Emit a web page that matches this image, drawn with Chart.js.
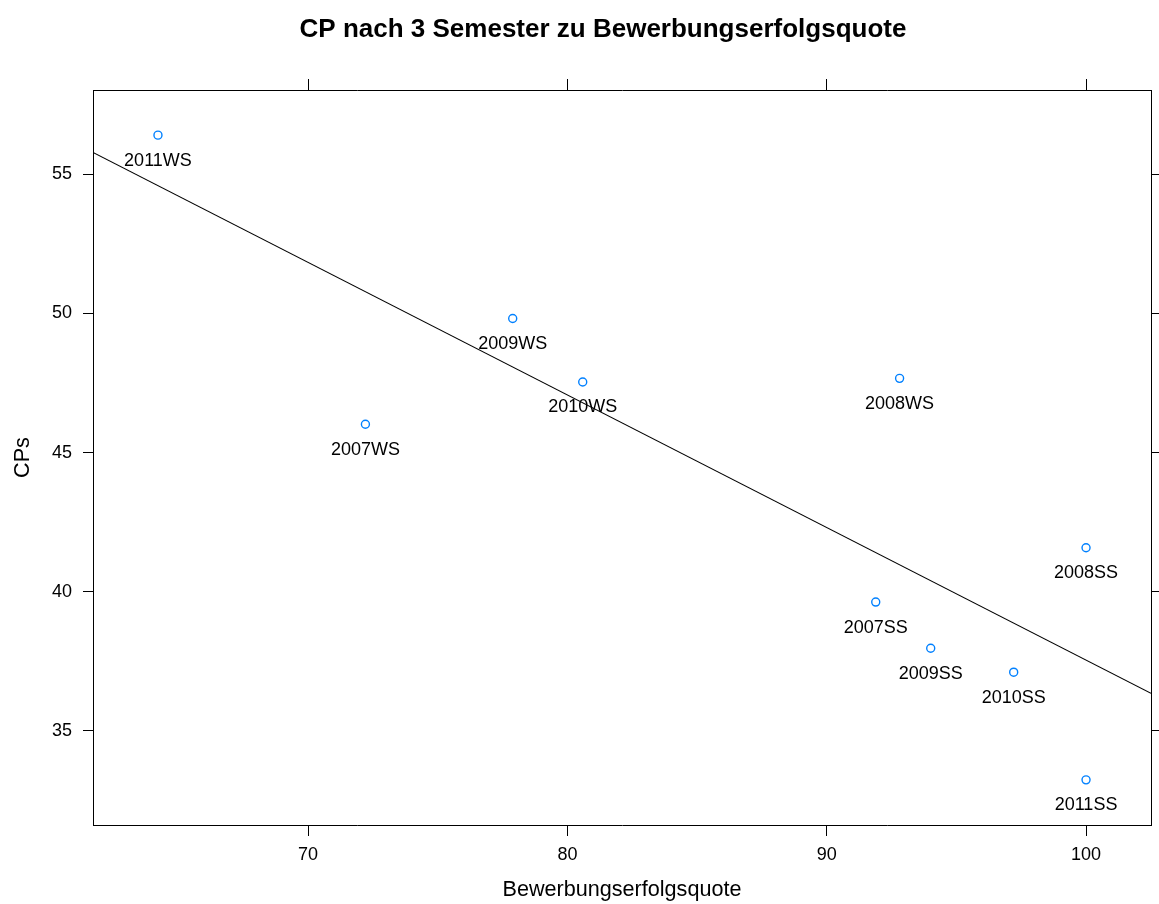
<!DOCTYPE html>
<html>
<head>
<meta charset="utf-8">
<title>CP nach 3 Semester zu Bewerbungserfolgsquote</title>
<script src="https://cdn.jsdelivr.net/npm/chart.js@4.4.1/dist/chart.umd.min.js"></script>
<style>
  html, body { margin: 0; padding: 0; background: #ffffff; }
  canvas { display: block; }
</style>
</head>
<body>
<canvas id="chart" width="1159" height="904"></canvas>
<script>
// Cohorts (semester of enrolment)
const cohorts = ['2011WS', '2009WS', '2010WS', '2007WS', '2008WS',
                 '2008SS', '2007SS', '2009SS', '2010SS', '2011SS'];
// Application success rate (%)
const erfolgsquote = [64.21, 77.89, 80.59, 72.21, 92.81,
                      100.0, 91.89, 94.01, 97.21, 100.0];
// Credit points after 3 semesters
const cps = [56.41, 49.82, 47.54, 46.02, 47.67,
             41.58, 39.63, 37.97, 37.11, 33.24];

const xTicks = [70, 80, 90, 100];
const yTicks = [35, 40, 45, 50, 55];

// Axis limits: data range extended by 7% on each side
function padRange(vals) {
  const lo = Math.min(...vals), hi = Math.max(...vals);
  const d = (hi - lo) * 0.07;
  return [lo - d, hi + d];
}
const [xMin, xMax] = padRange(erfolgsquote);
const [yMin, yMax] = padRange(cps);

// Least-squares fit of CPs on success rate
function linearFit(xs, ys) {
  const n = xs.length;
  const mx = xs.reduce((a, b) => a + b, 0) / n;
  const my = ys.reduce((a, b) => a + b, 0) / n;
  let sxy = 0, sxx = 0;
  for (let i = 0; i < n; i++) {
    sxy += (xs[i] - mx) * (ys[i] - my);
    sxx += (xs[i] - mx) * (xs[i] - mx);
  }
  const b = sxy / sxx;
  return { a: my - b * mx, b };
}
const fit = linearFit(erfolgsquote, cps);
const fitLine = [xMin, xMax].map(x => ({ x, y: fit.a + fit.b * x }));

const FONT = '"Liberation Sans", Arial, Helvetica, sans-serif';
const INK = '#000000';

const points = erfolgsquote.map((x, i) => ({ x, y: cps[i] }));

// Text labels underneath each point
const pointLabels = {
  id: 'pointLabels',
  afterDatasetsDraw(chart) {
    const meta = chart.getDatasetMeta(0);
    const ctx = chart.ctx;
    ctx.save();
    ctx.font = '18px ' + FONT;
    ctx.fillStyle = INK;
    ctx.textAlign = 'center';
    ctx.textBaseline = 'middle';
    meta.data.forEach((el, i) => {
      ctx.fillText(cohorts[i], el.x, el.y + 25.5);
    });
    ctx.restore();
  }
};

// Main heading
const plotTitle = {
  id: 'plotTitle',
  afterDraw(chart, args, opts) {
    const ctx = chart.ctx;
    ctx.save();
    ctx.font = 'bold 26px ' + FONT;
    ctx.fillStyle = INK;
    ctx.textAlign = 'center';
    ctx.textBaseline = 'alphabetic';
    ctx.fillText(opts.text, opts.x, opts.y);
    ctx.restore();
  }
};

const gridOpts = (len) => ({
  display: true,
  drawOnChartArea: false,
  drawTicks: true,
  tickLength: len,
  color: INK,
  lineWidth: 1
});
const borderOpts = { display: true, color: INK, width: 1 };
const fixedTicks = (vals) => (scale) => { scale.ticks = vals.map(v => ({ value: v })); };

new Chart(document.getElementById('chart'), {
  type: 'scatter',
  data: {
    datasets: [
      {
        label: 'CPs',
        data: points,
        pointStyle: 'circle',
        pointRadius: 4,
        pointHoverRadius: 4,
        pointBorderWidth: 1.4,
        borderColor: '#0080ff',
        backgroundColor: 'rgba(255,255,255,0)',
        showLine: false
      },
      {
        label: 'Regression',
        data: fitLine,
        showLine: true,
        borderColor: INK,
        borderWidth: 1.1,
        pointRadius: 0,
        pointHoverRadius: 0,
        fill: false
      }
    ]
  },
  options: {
    responsive: false,
    animation: false,
    devicePixelRatio: 1,
    layout: { padding: 0 },
    plugins: {
      legend: { display: false },
      tooltip: { enabled: false },
      title: { display: false },
      plotTitle: { text: 'CP nach 3 Semester zu Bewerbungserfolgsquote', x: 603, y: 37 }
    },
    scales: {
      x: {
        type: 'linear',
        position: 'bottom',
        min: xMin,
        max: xMax,
        afterBuildTicks: fixedTicks(xTicks),
        afterFit(s) { s.height = 79; },
        grid: gridOpts(11),
        border: borderOpts,
        ticks: {
          color: INK,
          font: { family: FONT, size: 18 },
          padding: 8,
          maxRotation: 0,
          autoSkip: false
        },
        title: {
          display: true,
          text: 'Bewerbungserfolgsquote',
          color: INK,
          font: { family: FONT, size: 21.6 },
          padding: { top: 0, bottom: 1 }
        }
      },
      y: {
        type: 'linear',
        position: 'left',
        min: yMin,
        max: yMax,
        afterBuildTicks: fixedTicks(yTicks),
        afterFit(s) { s.width = 93; },
        grid: gridOpts(10),
        border: borderOpts,
        ticks: {
          color: INK,
          font: { family: FONT, size: 18 },
          padding: 11,
          autoSkip: false
        },
        title: {
          display: true,
          text: 'CPs',
          color: INK,
          font: { family: FONT, size: 21.6 },
          padding: { top: 10.5, bottom: 0 }
        }
      },
      x2: {
        type: 'linear',
        position: 'top',
        min: xMin,
        max: xMax,
        afterBuildTicks: fixedTicks(xTicks),
        afterFit(s) { s.height = 90; },
        grid: gridOpts(11),
        border: borderOpts,
        ticks: { display: false }
      },
      y2: {
        type: 'linear',
        position: 'right',
        min: yMin,
        max: yMax,
        afterBuildTicks: fixedTicks(yTicks),
        afterFit(s) { s.width = 8; },
        grid: gridOpts(11),
        border: borderOpts,
        ticks: { display: false }
      }
    }
  },
  plugins: [pointLabels, plotTitle]
});
</script>
</body>
</html>
